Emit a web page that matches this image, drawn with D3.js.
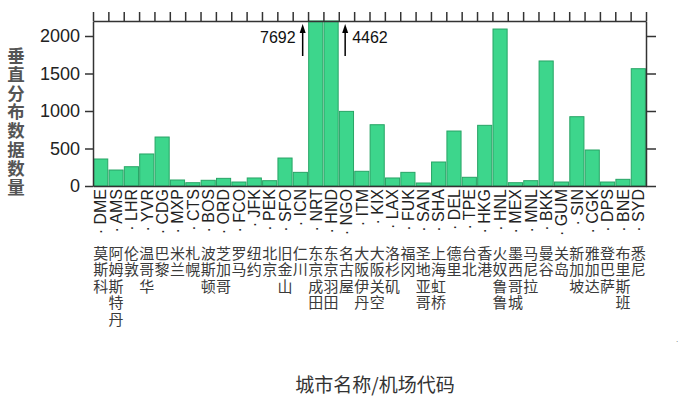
<!DOCTYPE html>
<html>
<head>
<meta charset="utf-8">
<script src="https://cdn.jsdelivr.net/npm/d3@7"></script>
<style>
  body { margin: 0; background: #fff; }
  svg { display: block; }
</style>
</head>
<body>
<div id="chart"></div>
<script>
// airport codes, city names and counts
const codes = ["DME","AMS","LHR","YVR","CDG","MXP","CTS","BOS","ORD","FCO","JFK","PEK","SFO","ICN","NRT","HND","NGO","ITM","KIX","LAX","FUK","SAN","SHA","DEL","TPE","HKG","HNL","MEX","MNL","BKK","GUM","SIN","CGK","DPS","BNE","SYD"];
const cities = ["莫斯科","阿姆斯特丹","伦敦","温哥华","巴黎","米兰","札幌","波斯顿","芝加哥","罗马","纽约","北京","旧金山","仁川","东京成田","东京羽田","名古屋","大阪伊丹","大阪关空","洛杉矶","福冈","圣地亚哥","上海虹桥","德里","台北","香港","火奴鲁鲁","墨西哥城","马尼拉","曼谷","关岛","新加坡","雅加达","登巴萨","布里斯班","悉尼"];
const counts = [360,213,257,427,653,80,44,76,102,53,107,71,373,182,7692,4462,995,196,817,107,182,40,320,733,116,809,2093,44,71,1667,53,924,480,53,89,1564];
const yTicks = [0, 500, 1000, 1500, 2000];
const yMax = 2200;

const width = 684, height = 397;
const plotLeft = 93, plotRight = 646, plotTop = 21, plotBottom = 186;

const svg = d3.select("#chart").append("svg")
    .attr("width", width)
    .attr("height", height);

const x = d3.scaleBand()
    .domain(codes)
    .range([plotLeft, plotRight])
    .paddingInner(0.08)
    .paddingOuter(0.04);
// same span, used for the boundary ticks
const xi = d3.scaleLinear().domain([0, codes.length]).range([plotLeft, plotRight]);
const y = d3.scaleLinear().domain([0, yMax]).range([plotBottom, plotTop]);

// bars (values above the top are cut at the frame)
svg.append("g").selectAll("rect")
    .data(codes.map((c, i) => ({ code: c, v: counts[i] })))
    .enter().append("rect")
    .attr("x", d => x(d.code))
    .attr("y", d => y(Math.min(d.v, yMax)))
    .attr("width", x.bandwidth())
    .attr("height", d => y(0) - y(Math.min(d.v, yMax)))
    .style("fill", "#3dd68c")
    .style("stroke", "#27a465")
    .style("stroke-width", 1);

const axisColor = "#333";
function styleAxis(g) {
    g.selectAll(".domain").attr("stroke", axisColor).attr("stroke-width", 1.5);
    g.selectAll(".tick line").attr("stroke", axisColor).attr("stroke-width", 1.5);
}

// left axis
svg.append("g")
    .attr("transform", "translate(" + plotLeft + ",0)")
    .call(d3.axisLeft(y).tickValues(yTicks).tickFormat(d3.format("d")).tickSize(8).tickSizeOuter(0).tickPadding(5))
    .call(styleAxis)
    .call(g => g.selectAll("text")
        .style("font-family", "'Liberation Sans', Arial, sans-serif")
        .style("font-size", "18px")
        .attr("fill", "#222"));

// right axis, ticks only
svg.append("g")
    .attr("transform", "translate(" + plotRight + ",0)")
    .call(d3.axisRight(y).tickValues(yTicks).tickSize(10).tickSizeOuter(0).tickFormat(""))
    .call(styleAxis);

// top axis, ticks on band boundaries
svg.append("g")
    .attr("transform", "translate(0," + plotTop + ")")
    .call(d3.axisTop(xi).tickValues(d3.range(codes.length + 1)).tickSize(9).tickSizeOuter(0).tickFormat(""))
    .call(styleAxis);

// bottom line
svg.append("g")
    .attr("transform", "translate(0," + plotBottom + ")")
    .call(d3.axisBottom(xi).tickValues([]).tickSizeOuter(0))
    .call(styleAxis);

// airport code labels, rotated
const labels = svg.append("g");
labels.selectAll("text.code")
    .data(codes)
    .enter().append("text")
    .attr("class", "code")
    .attr("transform", d => "translate(" + (x(d) + x.bandwidth() / 2) + "," + (plotBottom + 3) + ") rotate(-90)")
    .attr("dy", "0.36em")
    .attr("text-anchor", "end")
    .style("font-family", "'Liberation Sans', Arial, sans-serif")
    .style("font-size", "16px")
    .attr("fill", "#222")
    .text(d => "·  " + d);

// city names, one character per line
const cityG = labels.selectAll("g.city")
    .data(codes.map((c, i) => ({ code: c, name: cities[i] })))
    .enter().append("g")
    .attr("class", "city");
cityG.selectAll("text")
    .data(d => Array.from(d.name).map((ch, j) => ({ code: d.code, ch: ch, j: j })))
    .enter().append("text")
    .attr("x", d => x(d.code) + x.bandwidth() / 2)
    .attr("y", d => 259 + d.j * 16.4)
    .attr("text-anchor", "middle")
    .style("font-family", "'Noto Sans CJK SC', sans-serif")
    .style("font-size", "15px")
    .attr("fill", "#3a3a3a")
    .text(d => d.ch);

// off-scale annotations
const overflow = [
    { code: "NRT", v: counts[codes.indexOf("NRT")], side: "left" },
    { code: "HND", v: counts[codes.indexOf("HND")], side: "right" }
];
const ann = svg.append("g");
overflow.forEach(o => {
    const ax = o.side === "left" ? x(o.code) - 6 : x(o.code) + x.bandwidth() + 7;
    ann.append("line")
        .attr("x1", ax).attr("x2", ax)
        .attr("y1", 30).attr("y2", 56)
        .attr("stroke", "#000").attr("stroke-width", 1.5);
    ann.append("path")
        .attr("d", "M" + (ax - 3) + ",33 L" + ax + ",24 L" + (ax + 3) + ",33 Z")
        .attr("fill", "#000");
    ann.append("text")
        .attr("x", o.side === "left" ? ax - 7 : ax + 7)
        .attr("y", 43)
        .attr("text-anchor", o.side === "left" ? "end" : "start")
        .style("font-family", "'Liberation Sans', Arial, sans-serif")
        .style("font-size", "16px")
        .attr("fill", "#111")
        .text(o.v);
});

// y title, stacked vertically
const yTitle = "垂直分布数据数量";
svg.append("g").selectAll("text")
    .data(Array.from(yTitle))
    .enter().append("text")
    .attr("x", 16)
    .attr("y", (d, i) => 62 + i * 18.8)
    .attr("text-anchor", "middle")
    .style("font-family", "'Noto Sans CJK SC', sans-serif")
    .style("font-size", "17.5px")
    .style("font-weight", "bold")
    .attr("fill", "#555")
    .text(d => d);

// x title
svg.append("text")
    .attr("x", 375)
    .attr("y", 392)
    .attr("text-anchor", "middle")
    .style("font-family", "'Noto Sans CJK SC', sans-serif")
    .style("font-size", "19px")
    .attr("fill", "#333")
    .text("城市名称/机场代码");

// stray dot at the far right
svg.append("text")
    .attr("x", 676).attr("y", 342)
    .style("font-family", "'Liberation Sans', Arial, sans-serif")
    .style("font-size", "8px")
    .attr("fill", "#666")
    .text(".");
</script>
</body>
</html>
